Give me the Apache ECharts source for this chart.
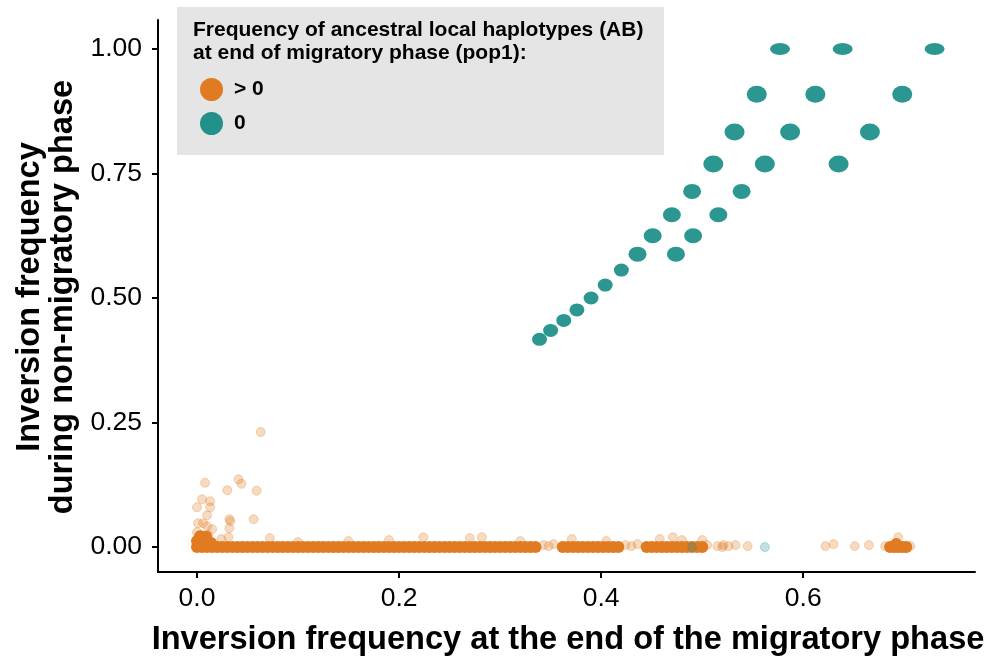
<!DOCTYPE html>
<html>
<head>
<meta charset="utf-8">
<script src="https://cdn.jsdelivr.net/npm/echarts@6/dist/echarts.min.js"></script>
<style>
  html, body { margin: 0; padding: 0; background: #fff; }
  #chart { width: 988px; height: 661px; }
</style>
</head>
<body>
<div id="chart"></div>
<script>
// dense band of points sitting on y = 0 (pop1 ancestral freq > 0)
var bandX = [
  0.000, 0.005, 0.010, 0.015, 0.020, 0.025, 0.030, 0.035, 0.040, 0.045,
  0.050, 0.055, 0.060, 0.065, 0.070, 0.075, 0.080, 0.085, 0.090, 0.095,
  0.100, 0.105, 0.110, 0.115, 0.120, 0.125, 0.130, 0.135, 0.140, 0.145,
  0.150, 0.155, 0.160, 0.165, 0.170, 0.175, 0.180, 0.185, 0.190, 0.195,
  0.200, 0.205, 0.210, 0.215, 0.220, 0.225, 0.230, 0.235, 0.240, 0.245,
  0.250, 0.255, 0.260, 0.265, 0.270, 0.275, 0.280, 0.285, 0.290, 0.295,
  0.300, 0.305, 0.310, 0.315, 0.320, 0.325, 0.330, 0.335,
  0.362, 0.367, 0.372, 0.377, 0.382, 0.387, 0.392, 0.397, 0.402, 0.407, 0.412, 0.417,
  0.445, 0.450, 0.455, 0.460, 0.465, 0.470, 0.475, 0.480, 0.485, 0.490, 0.495, 0.500
];
var orangeClusters = [
  [0.000, 0.012], [0.005, 0.016], [0.010, 0.012], [0.014, 0.008], [0.003, 0.022], [0.009, 0.021],
  [0.686, 0.000], [0.690, 0.000], [0.694, 0.000], [0.698, 0.000], [0.702, 0.000], [0.692, 0.006]
];
var orangeSparse = [
  [0.063, 0.231], [0.008, 0.129], [0.041, 0.136], [0.044, 0.127], [0.030, 0.114], [0.059, 0.113],
  [0.005, 0.096], [0.013, 0.092], [0.000, 0.080], [0.013, 0.080], [0.010, 0.064], [0.032, 0.056],
  [0.033, 0.052], [0.056, 0.056], [0.001, 0.048], [0.006, 0.048], [0.032, 0.038], [0.010, 0.042],
  [0.031, 0.020], [0.000, 0.030], [0.005, 0.024], [0.011, 0.024], [0.024, 0.016], [0.072, 0.018],
  [0.015, 0.036], [0.100, 0.010], [0.150, 0.012], [0.190, 0.014], [0.224, 0.020], [0.270, 0.018],
  [0.282, 0.020], [0.320, 0.012], [0.343, 0.004], [0.348, 0.002], [0.353, 0.006], [0.371, 0.016],
  [0.405, 0.012], [0.424, 0.004], [0.430, 0.002], [0.436, 0.006], [0.458, 0.016], [0.471, 0.020],
  [0.480, 0.014], [0.500, 0.014], [0.505, 0.004], [0.515, 0.002], [0.520, 0.000], [0.521, 0.004],
  [0.526, 0.002], [0.533, 0.004], [0.545, 0.002], [0.622, 0.002], [0.630, 0.006], [0.651, 0.002],
  [0.665, 0.004], [0.694, 0.020], [0.681, 0.002], [0.706, 0.002]
];
// pop1 ancestral freq == 0
var tealPts = [
  [0.577, 1.000], [0.639, 1.000], [0.730, 1.000],
  [0.554, 0.909], [0.612, 0.909], [0.698, 0.909],
  [0.532, 0.833], [0.587, 0.833], [0.666, 0.833],
  [0.511, 0.769], [0.562, 0.769], [0.635, 0.769],
  [0.490, 0.714], [0.539, 0.714],
  [0.470, 0.667], [0.516, 0.667],
  [0.451, 0.625], [0.491, 0.625],
  [0.436, 0.588], [0.474, 0.588],
  [0.420, 0.556], [0.404, 0.526], [0.390, 0.500], [0.376, 0.476],
  [0.363, 0.455], [0.350, 0.435], [0.339, 0.417]
];
var tealSparse = [[0.490, 0.000], [0.562, 0.000]];

var xTicks = [0, 0.2, 0.4, 0.6];
var yTicks = [0, 0.25, 0.5, 0.75, 1];

var ORANGE = '#e07b22';
var TEAL = '#21918a';
var FONT = '"Liberation Sans", Arial, Helvetica, sans-serif';

var chart = echarts.init(document.getElementById('chart'), null, { renderer: 'canvas' });

function tealSize(v) {
  var y = v[1];
  if (y >= 0.99) return [20, 12];
  if (y > 0.75) return [20, 17];
  if (y > 0.58) return [18, 15];
  return [15, 13];
}

var option = {
  animation: false,
  backgroundColor: '#fff',
  grid: { left: 158, right: 13, top: 20, bottom: 89 },
  xAxis: {
    type: 'value',
    min: -0.0386,
    max: 0.770,
    axisLine: { show: true, onZero: false, lineStyle: { color: '#000', width: 2 } },
    axisTick: { show: true, length: 6, customValues: xTicks, lineStyle: { color: '#000', width: 2 } },
    axisLabel: {
      customValues: xTicks,
      margin: 13,
      color: '#000',
      fontSize: 26.5,
      fontFamily: FONT,
      formatter: function (v) { return v.toFixed(1); }
    },
    splitLine: { show: false }
  },
  yAxis: {
    type: 'value',
    min: -0.050,
    max: 1.058,
    axisLine: { show: true, onZero: false, lineStyle: { color: '#000', width: 2 } },
    axisTick: { show: true, length: 6, customValues: yTicks, lineStyle: { color: '#000', width: 2 } },
    axisLabel: {
      customValues: yTicks,
      margin: 16,
      color: '#000',
      fontSize: 26.5,
      fontFamily: FONT,
      formatter: function (v) { return v.toFixed(2); }
    },
    splitLine: { show: false }
  },
  legend: {
    orient: 'vertical',
    left: 195,
    top: 73,
    itemWidth: 23,
    itemHeight: 23,
    itemGap: 11,
    icon: 'circle',
    data: [
      { name: '> 0', itemStyle: { color: ORANGE, opacity: 1, borderWidth: 0 } },
      { name: '0', itemStyle: { color: TEAL, opacity: 1, borderWidth: 0 } }
    ],
    textStyle: { fontSize: 21, fontWeight: 'bold', color: '#000', fontFamily: FONT, padding: [0, 0, 0, 6] },
    selectedMode: false
  },
  graphic: [
    {
      type: 'rect', z: -1, silent: true,
      shape: { x: 177, y: 7, width: 487, height: 148 },
      style: { fill: '#e5e5e5' }
    },
    {
      type: 'text', silent: true,
      x: 193, y: 19,
      style: {
        text: 'Frequency of ancestral local haplotypes (AB)\nat end of migratory phase (pop1):',
        font: 'bold 21px ' + FONT,
        lineHeight: 23,
        fill: '#000',
        textAlign: 'left',
        textVerticalAlign: 'top'
      }
    },
    {
      type: 'text', silent: true,
      x: 568, y: 640,
      style: {
        text: 'Inversion frequency at the end of the migratory phase',
        font: 'bold 32.6px ' + FONT,
        fill: '#000',
        textAlign: 'center',
        textVerticalAlign: 'middle'
      }
    },
    {
      type: 'text', silent: true,
      x: 47, y: 297,
      rotation: Math.PI / 2,
      style: {
        text: 'Inversion frequency\nduring non-migratory phase',
        font: 'bold 32.6px ' + FONT,
        lineHeight: 33,
        fill: '#000',
        textAlign: 'center',
        textVerticalAlign: 'middle'
      }
    }
  ],
  series: [
    {
      name: '> 0',
      type: 'scatter',
      data: orangeSparse,
      symbolSize: 9,
      itemStyle: { color: ORANGE, opacity: 0.28, borderColor: ORANGE, borderWidth: 1 }
    },
    {
      name: '> 0',
      type: 'scatter',
      data: bandX.map(function (x) { return [x, 0]; }).concat(orangeClusters),
      symbolSize: 12,
      itemStyle: { color: ORANGE, opacity: 1 }
    },
    {
      name: '0',
      type: 'scatter',
      data: tealSparse,
      symbolSize: 9,
      itemStyle: { color: TEAL, opacity: 0.28, borderColor: TEAL, borderWidth: 1 }
    },
    {
      name: '0',
      type: 'scatter',
      data: tealPts,
      symbolSize: tealSize,
      itemStyle: { color: TEAL, opacity: 0.95 }
    }
  ]
};

chart.setOption(option);
</script>
</body>
</html>
